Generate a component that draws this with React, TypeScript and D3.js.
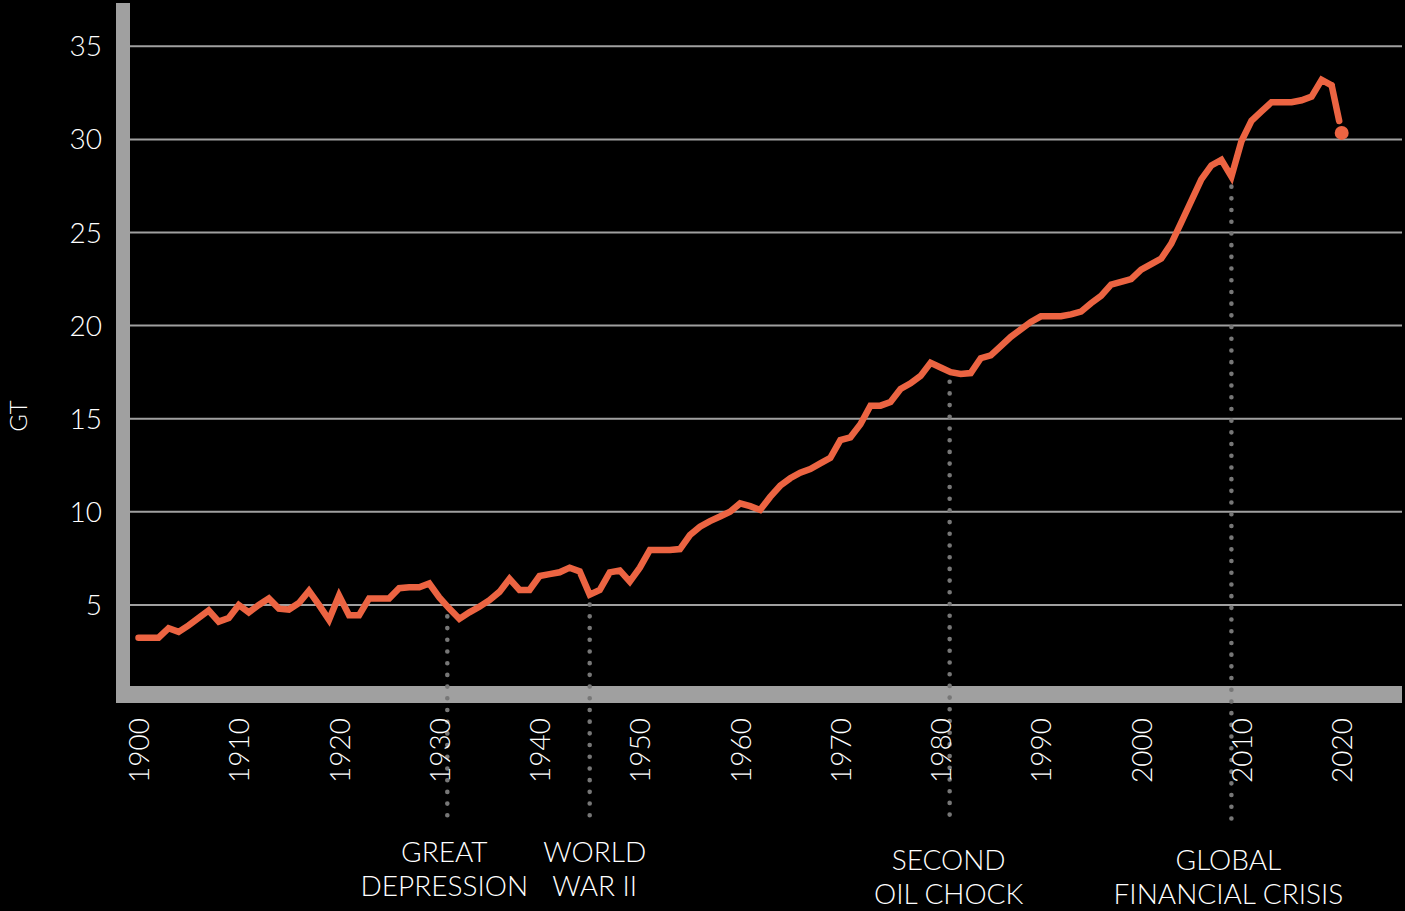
import React, { useEffect } from 'react';
import * as d3 from 'd3';

// yearly emissions, GT
const years = d3.range(1900, 2021);
const emissions = [
  3.24, 3.24, 3.24, 3.75, 3.55, 3.9, 4.3, 4.7, 4.1, 4.3,
  5.0, 4.6, 5.0, 5.35, 4.8, 4.75, 5.1, 5.75, 5.0, 4.2,
  5.5, 4.45, 4.45, 5.35, 5.35, 5.35, 5.9, 5.95, 5.95, 6.15,
  5.4, 4.8, 4.25, 4.6, 4.9, 5.25, 5.7, 6.4, 5.8, 5.8,
  6.55, 6.65, 6.75, 7.0, 6.8, 5.55, 5.8, 6.75, 6.85, 6.25,
  7.0, 7.95, 7.95, 7.95, 8.0, 8.75, 9.2, 9.5, 9.75, 10.0,
  10.45, 10.3, 10.1, 10.8, 11.4, 11.8, 12.1, 12.3, 12.6, 12.9,
  13.85, 14.0, 14.7, 15.7, 15.7, 15.9, 16.6, 16.9, 17.3, 18.0,
  17.75, 17.5, 17.4, 17.45, 18.25, 18.4, 18.9, 19.4, 19.8, 20.2,
  20.5, 20.5, 20.5, 20.6, 20.75, 21.2, 21.6, 22.2, 22.35, 22.5,
  23.0, 23.3, 23.6, 24.4, 25.55, 26.7, 27.85, 28.6, 28.9, 28.0,
  29.9, 31.0, 31.5, 32.0, 32.0, 32.0, 32.1, 32.3, 33.2, 32.9,
  30.35,
];

const yTicks = [5, 10, 15, 20, 25, 30, 35];
const xTicks = d3.range(1900, 2021, 10);

const eventYears = [1930.8, 1945, 1980.9, 2009];
const eventLabels = [
  ['GREAT', 'DEPRESSION'],
  ['WORLD', 'WAR II'],
  ['SECOND', 'OIL CHOCK'],
  ['GLOBAL', 'FINANCIAL CRISIS'],
];
const eventLabelShift = [-3, 5, -1, -3];
const eventLabelTop = [862, 862, 870, 870];

const W = 1405;
const H = 911;
const FONT = "Lato, 'Noto Sans', sans-serif";
const ORANGE = '#ec6442';
const GRAY = '#a0a0a0';

const App = () => {
  useEffect(() => {
    document.body.style.margin = '0';
    document.body.style.background = '#000';
  }, []);

  const x = d3.scaleLinear().domain([1900, 2020]).range([138.5, 1341.7]);
  const y = d3.scaleLinear().domain([0, 35]).range([698, 46.3]);

  const pts: [number, number][] = years.map((yr, i) => [x(yr), y(emissions[i])]);
  const line = d3.line();
  const mainPath = line(pts.slice(0, pts.length - 1)) || '';

  // last segment stops short of the 2020 dot
  const a = pts[pts.length - 2];
  const b = pts[pts.length - 1];
  const tail = line([a, [a[0] + (b[0] - a[0]) * 0.75, a[1] + (b[1] - a[1]) * 0.75]]) || '';

  const valueAt = (yr: number) => {
    const i = Math.floor(yr) - 1900;
    const t = yr - Math.floor(yr);
    const v0 = emissions[i];
    const v1 = emissions[Math.min(i + 1, emissions.length - 1)];
    return v0 + (v1 - v0) * t;
  };

  return (
    <svg width={W} height={H} style={{ display: 'block', background: '#000' }} fontFamily={FONT}>
      <rect width={W} height={H} fill="#000" />

      {/* grid */}
      {yTicks.map((t) => (
        <line key={t} x1={130} x2={1402} y1={y(t)} y2={y(t)} stroke={GRAY} strokeWidth={2} />
      ))}

      {/* axis bars */}
      <rect x={116} y={3} width={14} height={700} fill={GRAY} />
      <rect x={116} y={686} width={1286} height={17} fill={GRAY} />

      {/* y labels */}
      {yTicks.map((t) => (
        <text key={t} x={102} y={y(t)} dy="0.36em" textAnchor="end" fill="#fff" fontSize={28} fontWeight={300}>
          {t}
        </text>
      ))}
      <text transform={`translate(18, 416) rotate(-90)`} dy="0.36em" textAnchor="middle" fill="#fff" fontSize={24} fontWeight={300}>
        GT
      </text>

      {/* event dotted lines */}
      {eventYears.map((yr) => (
        <line
          key={yr}
          x1={x(yr)}
          x2={x(yr)}
          y1={y(valueAt(yr)) + 10}
          y2={826}
          stroke="#777"
          strokeWidth={4.6}
          strokeLinecap="round"
          strokeDasharray="0 11.7"
        />
      ))}

      {/* x labels */}
      {xTicks.map((t) => (
        <text
          key={t}
          transform={`translate(${x(t) + 0.5}, 718) rotate(-90)`}
          dy="0.36em"
          textAnchor="end"
          fill="#fff"
          fontSize={28}
          fontWeight={300}
        >
          {t}
        </text>
      ))}

      {/* event labels */}
      {eventYears.map((yr, i) => (
        <text key={yr} x={x(yr) + eventLabelShift[i]} y={eventLabelTop[i]} textAnchor="middle" fill="#fff" fontSize={28} fontWeight={300}>
          <tspan x={x(yr) + eventLabelShift[i]}>{eventLabels[i][0]}</tspan>
          <tspan x={x(yr) + eventLabelShift[i]} dy={34}>{eventLabels[i][1]}</tspan>
        </text>
      ))}

      {/* emissions line */}
      <path d={mainPath} fill="none" stroke={ORANGE} strokeWidth={6.5} strokeLinejoin="miter" strokeLinecap="round" />
      <path d={tail} fill="none" stroke={ORANGE} strokeWidth={6.5} strokeLinecap="round" />
      <circle cx={b[0]} cy={b[1]} r={7} fill={ORANGE} />
    </svg>
  );
};

export default App;
